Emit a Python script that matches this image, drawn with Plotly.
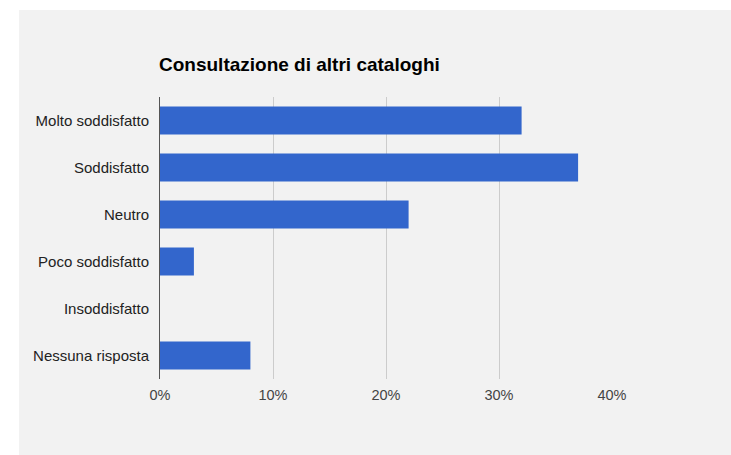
import plotly.graph_objects as go

# Survey answers, top to bottom
categories = [
    "Molto soddisfatto",
    "Soddisfatto",
    "Neutro",
    "Poco soddisfatto",
    "Insoddisfatto",
    "Nessuna risposta",
]
shares = [0.32, 0.37, 0.22, 0.03, 0.0, 0.08]
x_ticks = [0.0, 0.1, 0.2, 0.3, 0.4]
x_tick_labels = ["0%", "10%", "20%", "30%", "40%"]
title_text = "Consultazione di altri cataloghi"

W, H = 731, 455
L, R, T, B = 160, 119, 97, 76
FONT = "Liberation Sans, Arial, sans-serif"

fig = go.Figure(
    go.Bar(
        x=shares,
        y=categories,
        orientation="h",
        marker=dict(color="#3366cc", line=dict(width=0)),
        hoverinfo="x+y",
    )
)

# light grey card behind the chart, leaving a thin white margin top/left
pw, ph = W - L - R, H - T - B
fig.add_shape(
    type="rect",
    xref="paper", yref="paper",
    x0=(19 - L) / pw, x1=(W - L) / pw,
    y0=(H - B - H) / ph, y1=(H - B - 10) / ph,
    fillcolor="#f2f2f2", line=dict(width=0), layer="below",
)

fig.add_annotation(
    text="<b>" + title_text + "</b>",
    xref="paper", yref="paper",
    x=0, y=(H - B - 64) / ph,
    xanchor="left", yanchor="middle",
    xshift=-3,
    showarrow=False,
    font=dict(family=FONT, size=19, color="#000000"),
)

fig.update_layout(
    width=W, height=H,
    margin=dict(l=L, r=R, t=T, b=B, pad=0),
    paper_bgcolor="#ffffff",
    plot_bgcolor="rgba(0,0,0,0)",
    bargap=0.4,
    showlegend=False,
    font=dict(family=FONT, size=14.5, color="#222222"),
)

fig.update_xaxes(
    range=[0, 0.4],
    tickvals=x_ticks,
    ticktext=x_tick_labels,
    showgrid=True,
    gridcolor="#cccccc",
    gridwidth=1,
    zeroline=False,
    showline=False,
    ticks="",
    ticklabelstandoff=5,
    tickfont=dict(family=FONT, size=14.5, color="#444444"),
    fixedrange=True,
)

fig.update_yaxes(
    categoryorder="array",
    categoryarray=categories,
    autorange="reversed",
    showgrid=False,
    zeroline=False,
    showline=True,
    linecolor="#555555",
    linewidth=1,
    ticks="",
    ticklabelstandoff=7,
    tickfont=dict(family=FONT, size=15, color="#222222"),
    fixedrange=True,
)

fig.write_html("out.html")
